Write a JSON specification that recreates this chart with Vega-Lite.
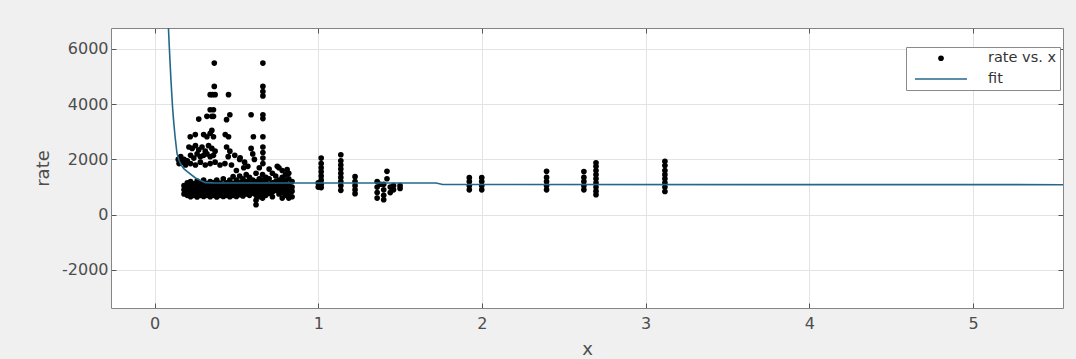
{
  "$schema": "https://vega.github.io/schema/vega-lite/v6.json",
  "autosize": {"type": "none"},
  "padding": {"left": 111, "top": 28, "right": 13, "bottom": 51},
  "width": 952,
  "height": 280,
  "background": "#f0f0f0",
  "config": {
    "font": "DejaVu Sans",
    "view": {"fill": "white", "stroke": "#858585", "strokeWidth": 1},
    "axis": {
      "labelFont": "DejaVu Sans",
      "labelFontSize": 16,
      "labelColor": "#4d4d4d",
      "titleFont": "DejaVu Sans",
      "titleColor": "#4d4d4d",
      "titleFontSize": 18,
      "titleFontWeight": "normal",
      "tickColor": "#555555",
      "gridColor": "#e3e3e3",
      "domain": false
    },
    "legend": {
      "title": null,
      "orient": "none",
      "legendX": 795,
      "legendY": 19,
      "fillColor": "white",
      "strokeColor": "#8a8a8a",
      "padding": 4,
      "rowPadding": 4,
      "symbolOffset": 21,
      "labelOffset": 37,
      "symbolStrokeWidth": 0,
      "labelFont": "DejaVu Sans",
      "labelFontSize": 14.5,
      "labelColor": "#333333"
    }
  },
  "datasets": {
    "obs": [
      {"x": 0.18, "rate": 750}, {"x": 0.18, "rate": 900}, {"x": 0.18, "rate": 1050},
      {"x": 0.20, "rate": 700}, {"x": 0.20, "rate": 850}, {"x": 0.20, "rate": 1000}, {"x": 0.20, "rate": 1150},
      {"x": 0.22, "rate": 650}, {"x": 0.22, "rate": 780}, {"x": 0.22, "rate": 920}, {"x": 0.22, "rate": 1060}, {"x": 0.22, "rate": 1200},
      {"x": 0.24, "rate": 700}, {"x": 0.24, "rate": 830}, {"x": 0.24, "rate": 980}, {"x": 0.24, "rate": 1120},
      {"x": 0.26, "rate": 640}, {"x": 0.26, "rate": 760}, {"x": 0.26, "rate": 900}, {"x": 0.26, "rate": 1050}, {"x": 0.26, "rate": 1220},
      {"x": 0.28, "rate": 700}, {"x": 0.28, "rate": 850}, {"x": 0.28, "rate": 1000}, {"x": 0.28, "rate": 1150},
      {"x": 0.30, "rate": 660}, {"x": 0.30, "rate": 800}, {"x": 0.30, "rate": 940}, {"x": 0.30, "rate": 1080}, {"x": 0.30, "rate": 1250},
      {"x": 0.32, "rate": 700}, {"x": 0.32, "rate": 830}, {"x": 0.32, "rate": 980}, {"x": 0.32, "rate": 1130},
      {"x": 0.34, "rate": 650}, {"x": 0.34, "rate": 780}, {"x": 0.34, "rate": 920}, {"x": 0.34, "rate": 1070}, {"x": 0.34, "rate": 1200},
      {"x": 0.36, "rate": 700}, {"x": 0.36, "rate": 860}, {"x": 0.36, "rate": 1010}, {"x": 0.36, "rate": 1160},
      {"x": 0.38, "rate": 640}, {"x": 0.38, "rate": 790}, {"x": 0.38, "rate": 930}, {"x": 0.38, "rate": 1090}, {"x": 0.38, "rate": 1250},
      {"x": 0.40, "rate": 700}, {"x": 0.40, "rate": 840}, {"x": 0.40, "rate": 990}, {"x": 0.40, "rate": 1140},
      {"x": 0.42, "rate": 660}, {"x": 0.42, "rate": 800}, {"x": 0.42, "rate": 950}, {"x": 0.42, "rate": 1100}, {"x": 0.42, "rate": 1300},
      {"x": 0.44, "rate": 700}, {"x": 0.44, "rate": 850}, {"x": 0.44, "rate": 1000}, {"x": 0.44, "rate": 1150},
      {"x": 0.46, "rate": 650}, {"x": 0.46, "rate": 790}, {"x": 0.46, "rate": 940}, {"x": 0.46, "rate": 1090}, {"x": 0.46, "rate": 1250},
      {"x": 0.48, "rate": 700}, {"x": 0.48, "rate": 830}, {"x": 0.48, "rate": 980}, {"x": 0.48, "rate": 1130}, {"x": 0.48, "rate": 1380},
      {"x": 0.50, "rate": 660}, {"x": 0.50, "rate": 800}, {"x": 0.50, "rate": 950}, {"x": 0.50, "rate": 1100}, {"x": 0.50, "rate": 1250},
      {"x": 0.52, "rate": 720}, {"x": 0.52, "rate": 870}, {"x": 0.52, "rate": 1020}, {"x": 0.52, "rate": 1170}, {"x": 0.52, "rate": 1400},
      {"x": 0.54, "rate": 680}, {"x": 0.54, "rate": 830}, {"x": 0.54, "rate": 980}, {"x": 0.54, "rate": 1120}, {"x": 0.54, "rate": 1300},
      {"x": 0.56, "rate": 750}, {"x": 0.56, "rate": 900}, {"x": 0.56, "rate": 1050}, {"x": 0.56, "rate": 1200}, {"x": 0.56, "rate": 1450},
      {"x": 0.58, "rate": 700}, {"x": 0.58, "rate": 860}, {"x": 0.58, "rate": 1010}, {"x": 0.58, "rate": 1160}, {"x": 0.58, "rate": 1350},
      {"x": 0.60, "rate": 780}, {"x": 0.60, "rate": 920}, {"x": 0.60, "rate": 1070}, {"x": 0.60, "rate": 1250},
      {"x": 0.62, "rate": 360}, {"x": 0.62, "rate": 520}, {"x": 0.62, "rate": 700}, {"x": 0.62, "rate": 880}, {"x": 0.62, "rate": 1030}, {"x": 0.62, "rate": 1200}, {"x": 0.62, "rate": 1500},
      {"x": 0.64, "rate": 650}, {"x": 0.64, "rate": 820}, {"x": 0.64, "rate": 980}, {"x": 0.64, "rate": 1130}, {"x": 0.64, "rate": 1300},
      {"x": 0.66, "rate": 600}, {"x": 0.66, "rate": 760}, {"x": 0.66, "rate": 920}, {"x": 0.66, "rate": 1080}, {"x": 0.66, "rate": 1250}, {"x": 0.66, "rate": 1450},
      {"x": 0.68, "rate": 700}, {"x": 0.68, "rate": 860}, {"x": 0.68, "rate": 1020}, {"x": 0.68, "rate": 1180}, {"x": 0.68, "rate": 1350},
      {"x": 0.70, "rate": 780}, {"x": 0.70, "rate": 940}, {"x": 0.70, "rate": 1100}, {"x": 0.70, "rate": 1300},
      {"x": 0.72, "rate": 650}, {"x": 0.72, "rate": 820}, {"x": 0.72, "rate": 980}, {"x": 0.72, "rate": 1150}, {"x": 0.72, "rate": 1500},
      {"x": 0.74, "rate": 880}, {"x": 0.74, "rate": 1050}, {"x": 0.74, "rate": 1200}, {"x": 0.74, "rate": 1400},
      {"x": 0.76, "rate": 750}, {"x": 0.76, "rate": 920}, {"x": 0.76, "rate": 1080}, {"x": 0.76, "rate": 1250}, {"x": 0.76, "rate": 1700},
      {"x": 0.78, "rate": 600}, {"x": 0.78, "rate": 800}, {"x": 0.78, "rate": 980}, {"x": 0.78, "rate": 1150}, {"x": 0.78, "rate": 1350}, {"x": 0.78, "rate": 1600},
      {"x": 0.80, "rate": 700}, {"x": 0.80, "rate": 880}, {"x": 0.80, "rate": 1050}, {"x": 0.80, "rate": 1250}, {"x": 0.80, "rate": 1450},
      {"x": 0.82, "rate": 600}, {"x": 0.82, "rate": 760}, {"x": 0.82, "rate": 950}, {"x": 0.82, "rate": 1100}, {"x": 0.82, "rate": 1300}, {"x": 0.82, "rate": 1500},
      {"x": 0.84, "rate": 650}, {"x": 0.84, "rate": 850}, {"x": 0.84, "rate": 1000}, {"x": 0.84, "rate": 1200},

      {"x": 0.365, "rate": 5490}, {"x": 0.662, "rate": 5490},
      {"x": 0.365, "rate": 4645}, {"x": 0.34, "rate": 4345}, {"x": 0.355, "rate": 4345}, {"x": 0.37, "rate": 4345}, {"x": 0.452, "rate": 4345},
      {"x": 0.662, "rate": 4645}, {"x": 0.662, "rate": 4460}, {"x": 0.662, "rate": 4300},
      {"x": 0.34, "rate": 3800}, {"x": 0.36, "rate": 3800}, {"x": 0.35, "rate": 3560}, {"x": 0.32, "rate": 3560}, {"x": 0.36, "rate": 3560},
      {"x": 0.27, "rate": 3460}, {"x": 0.46, "rate": 3620}, {"x": 0.44, "rate": 3440}, {"x": 0.59, "rate": 3620}, {"x": 0.662, "rate": 3620}, {"x": 0.662, "rate": 3480},
      {"x": 0.218, "rate": 2820}, {"x": 0.249, "rate": 2900}, {"x": 0.30, "rate": 2900}, {"x": 0.32, "rate": 2820}, {"x": 0.34, "rate": 2950},
      {"x": 0.36, "rate": 2820}, {"x": 0.35, "rate": 3050}, {"x": 0.432, "rate": 2900}, {"x": 0.452, "rate": 2820}, {"x": 0.604, "rate": 2820}, {"x": 0.662, "rate": 2820},
      {"x": 0.21, "rate": 2450}, {"x": 0.23, "rate": 2400}, {"x": 0.25, "rate": 2500}, {"x": 0.27, "rate": 2350}, {"x": 0.29, "rate": 2450},
      {"x": 0.31, "rate": 2300}, {"x": 0.33, "rate": 2500}, {"x": 0.35, "rate": 2400}, {"x": 0.37, "rate": 2300}, {"x": 0.30, "rate": 2150},
      {"x": 0.32, "rate": 2200}, {"x": 0.34, "rate": 2100}, {"x": 0.36, "rate": 2150}, {"x": 0.26, "rate": 2200}, {"x": 0.28, "rate": 2100},
      {"x": 0.22, "rate": 2150}, {"x": 0.24, "rate": 2050},
      {"x": 0.44, "rate": 2450}, {"x": 0.46, "rate": 2300}, {"x": 0.45, "rate": 2100}, {"x": 0.49, "rate": 2150}, {"x": 0.52, "rate": 2000},
      {"x": 0.55, "rate": 1900}, {"x": 0.59, "rate": 2400}, {"x": 0.60, "rate": 2200}, {"x": 0.61, "rate": 2000},
      {"x": 0.662, "rate": 2450}, {"x": 0.662, "rate": 2250}, {"x": 0.662, "rate": 2050}, {"x": 0.662, "rate": 1850},
      {"x": 0.145, "rate": 2000}, {"x": 0.15, "rate": 1850}, {"x": 0.16, "rate": 2100}, {"x": 0.17, "rate": 1900}, {"x": 0.18, "rate": 2000},
      {"x": 0.19, "rate": 1800}, {"x": 0.20, "rate": 1950}, {"x": 0.22, "rate": 1850}, {"x": 0.25, "rate": 1800}, {"x": 0.28, "rate": 1900},
      {"x": 0.31, "rate": 1800}, {"x": 0.34, "rate": 1850}, {"x": 0.37, "rate": 1900}, {"x": 0.40, "rate": 1800}, {"x": 0.43, "rate": 1850}, {"x": 0.47, "rate": 1800},
      {"x": 0.523, "rate": 2060}, {"x": 0.545, "rate": 1700}, {"x": 0.57, "rate": 1750}, {"x": 0.75, "rate": 1750}, {"x": 0.81, "rate": 1630},
      {"x": 0.70, "rate": 1650}, {"x": 0.64, "rate": 1700}, {"x": 0.50, "rate": 1600},

      {"x": 1.018, "rate": 980}, {"x": 1.018, "rate": 1100}, {"x": 1.018, "rate": 1250}, {"x": 1.018, "rate": 1400},
      {"x": 1.018, "rate": 1550}, {"x": 1.018, "rate": 1700}, {"x": 1.018, "rate": 1850}, {"x": 1.018, "rate": 2050},
      {"x": 1.0, "rate": 1000}, {"x": 1.0, "rate": 1150},
      {"x": 1.138, "rate": 880}, {"x": 1.138, "rate": 1050}, {"x": 1.138, "rate": 1200}, {"x": 1.138, "rate": 1350}, {"x": 1.138, "rate": 1500},
      {"x": 1.138, "rate": 1650}, {"x": 1.138, "rate": 1800}, {"x": 1.138, "rate": 1950}, {"x": 1.138, "rate": 2170},
      {"x": 1.225, "rate": 760}, {"x": 1.225, "rate": 900}, {"x": 1.225, "rate": 1050}, {"x": 1.225, "rate": 1200}, {"x": 1.225, "rate": 1375},
      {"x": 1.36, "rate": 600}, {"x": 1.36, "rate": 800}, {"x": 1.36, "rate": 1000}, {"x": 1.36, "rate": 1200},
      {"x": 1.40, "rate": 540}, {"x": 1.40, "rate": 700}, {"x": 1.40, "rate": 900}, {"x": 1.40, "rate": 1100},
      {"x": 1.42, "rate": 1300}, {"x": 1.42, "rate": 1570}, {"x": 1.44, "rate": 800}, {"x": 1.44, "rate": 1000},
      {"x": 1.46, "rate": 900}, {"x": 1.46, "rate": 1050}, {"x": 1.50, "rate": 950}, {"x": 1.50, "rate": 1050}, {"x": 1.38, "rate": 1100},
      {"x": 1.923, "rate": 900}, {"x": 1.923, "rate": 1050}, {"x": 1.923, "rate": 1200}, {"x": 1.923, "rate": 1340},
      {"x": 1.999, "rate": 900}, {"x": 1.999, "rate": 1050}, {"x": 1.999, "rate": 1200}, {"x": 1.999, "rate": 1340},
      {"x": 2.395, "rate": 900}, {"x": 2.395, "rate": 1050}, {"x": 2.395, "rate": 1200}, {"x": 2.395, "rate": 1350}, {"x": 2.395, "rate": 1570},
      {"x": 2.623, "rate": 900}, {"x": 2.623, "rate": 1050}, {"x": 2.623, "rate": 1200}, {"x": 2.623, "rate": 1350}, {"x": 2.623, "rate": 1560},
      {"x": 2.697, "rate": 720}, {"x": 2.697, "rate": 850}, {"x": 2.697, "rate": 1000}, {"x": 2.697, "rate": 1150}, {"x": 2.697, "rate": 1300},
      {"x": 2.697, "rate": 1450}, {"x": 2.697, "rate": 1600}, {"x": 2.697, "rate": 1750}, {"x": 2.697, "rate": 1880},
      {"x": 3.118, "rate": 840}, {"x": 3.118, "rate": 1000}, {"x": 3.118, "rate": 1150}, {"x": 3.118, "rate": 1300},
      {"x": 3.118, "rate": 1450}, {"x": 3.118, "rate": 1600}, {"x": 3.118, "rate": 1780}, {"x": 3.118, "rate": 1930}
    ],
    "fit": [
      {"x": 0.07, "rate": 9500}, {"x": 0.08, "rate": 7600}, {"x": 0.085, "rate": 6760}, {"x": 0.09, "rate": 6100},
      {"x": 0.10, "rate": 4900}, {"x": 0.11, "rate": 3900}, {"x": 0.116, "rate": 3440}, {"x": 0.125, "rate": 2850},
      {"x": 0.137, "rate": 2230}, {"x": 0.15, "rate": 1950}, {"x": 0.165, "rate": 1780}, {"x": 0.18, "rate": 1660},
      {"x": 0.20, "rate": 1560}, {"x": 0.25, "rate": 1330}, {"x": 0.31, "rate": 1160}, {"x": 0.36, "rate": 1150},
      {"x": 0.45, "rate": 1148}, {"x": 1.0, "rate": 1148}, {"x": 1.72, "rate": 1145}, {"x": 1.76, "rate": 1092},
      {"x": 5.55, "rate": 1086}
    ]
  },
  "layer": [
    {
      "data": {"name": "obs"},
      "mark": {"type": "point", "filled": true, "opacity": 1, "clip": true},
      "encoding": {
        "x": {
          "field": "x", "type": "quantitative",
          "scale": {"domain": [-0.266, 5.55], "nice": false, "zero": false},
          "axis": {"title": "x", "values": [0, 1, 2, 3, 4, 5], "labelExpr": "'' + datum.value", "labelFont": "DejaVu Sans", "labelFontSize": 16, "tickSize": -5, "labelPadding": 12, "titlePadding": 9, "grid": true}
        },
        "y": {
          "field": "rate", "type": "quantitative",
          "scale": {"domain": [-3380, 6760], "nice": false, "zero": false},
          "axis": {"title": "rate", "values": [-2000, 0, 2000, 4000, 6000], "labelExpr": "'' + datum.value", "labelFont": "DejaVu Sans", "labelFontSize": 16, "tickSize": -5, "labelPadding": 8, "titlePadding": 9, "grid": true}
        },
        "color": {
          "datum": "rate vs. x", "type": "nominal",
          "scale": {"domain": ["rate vs. x", "fit"], "range": ["#000000", "#24688a"]}
        },
        "shape": {
          "datum": "rate vs. x", "type": "nominal",
          "scale": {"domain": ["rate vs. x", "fit"], "range": ["circle", "M-2.6,-0.08H2.6V0.08H-2.6Z"]}
        },
        "size": {
          "datum": "rate vs. x", "type": "ordinal",
          "scale": {"domain": ["rate vs. x", "fit"], "range": [32, 400]}
        }
      }
    },
    {
      "data": {"name": "fit"},
      "mark": {"type": "line", "strokeWidth": 1.6, "color": "#24688a", "clip": true},
      "encoding": {
        "x": {
          "field": "x", "type": "quantitative",
          "axis": {"orient": "top", "title": null, "labels": false, "values": [0, 1, 2, 3, 4, 5], "tickSize": -5, "grid": false}
        },
        "y": {
          "field": "rate", "type": "quantitative",
          "axis": {"orient": "right", "title": null, "labels": false, "values": [-2000, 0, 2000, 4000, 6000], "tickSize": -5, "grid": false}
        }
      }
    }
  ],
  "resolve": {"axis": {"x": "independent", "y": "independent"}}
}
